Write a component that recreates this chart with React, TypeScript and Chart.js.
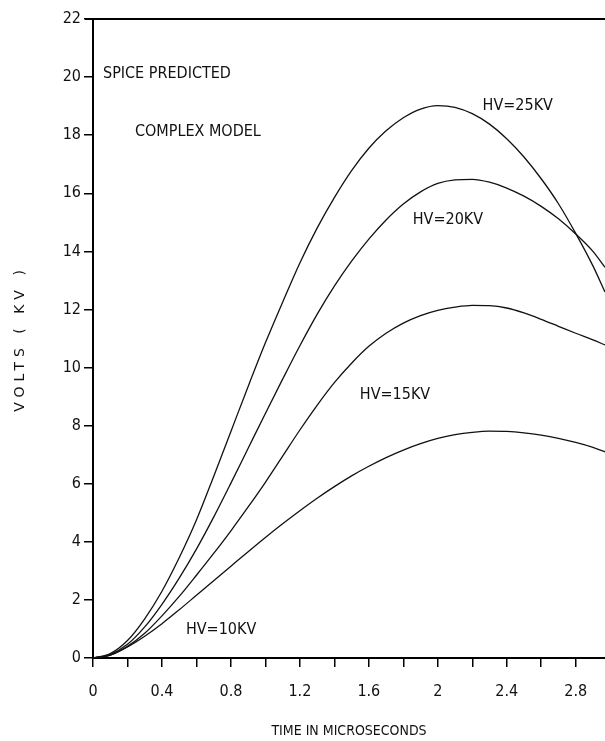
import React, { useEffect, useRef } from "react";
import { Chart, registerables } from "chart.js";

Chart.register(...registerables);

// Time in microseconds
const TIMES = [0, 0.1, 0.2, 0.3, 0.4, 0.5, 0.6, 0.7, 0.8, 0.9, 1.0, 1.1, 1.2, 1.3, 1.4, 1.5, 1.6, 1.7, 1.8, 1.9, 2.0, 2.1, 2.2, 2.3, 2.4, 2.5, 2.6, 2.7, 2.8, 2.9, 2.97];

// Volts (kV)
const HV25 = [0, 0.15, 0.6, 1.35, 2.3, 3.45, 4.75, 6.25, 7.8, 9.35, 10.85, 12.25, 13.6, 14.8, 15.85, 16.78, 17.55, 18.15, 18.6, 18.9, 19.02, 18.96, 18.74, 18.38, 17.88, 17.25, 16.5, 15.64, 14.62, 13.5, 12.6];
const HV20 = [0, 0.12, 0.47, 1.07, 1.85, 2.75, 3.75, 4.85, 6.02, 7.22, 8.42, 9.6, 10.75, 11.83, 12.8, 13.66, 14.42, 15.08, 15.63, 16.05, 16.34, 16.46, 16.48, 16.38, 16.18, 15.9, 15.55, 15.12, 14.6, 14.0, 13.45];
const HV15 = [0, 0.1, 0.4, 0.85, 1.45, 2.12, 2.85, 3.6, 4.38, 5.2, 6.05, 6.95, 7.85, 8.7, 9.48, 10.15, 10.73, 11.18, 11.53, 11.79, 11.97, 12.08, 12.14, 12.13, 12.05, 11.88, 11.66, 11.42, 11.18, 10.95, 10.78];
const HV10 = [0, 0.1, 0.38, 0.75, 1.18, 1.66, 2.16, 2.66, 3.16, 3.66, 4.15, 4.62, 5.07, 5.5, 5.9, 6.27, 6.6, 6.9, 7.16, 7.38, 7.56, 7.69, 7.77, 7.81, 7.8, 7.75, 7.67, 7.56, 7.42, 7.25, 7.1];

const SERIES_NAMES = ["HV=25KV", "HV=20KV", "HV=15KV", "HV=10KV"];
const SERIES_VALUES = [HV25, HV20, HV15, HV10];

const X_TICK_LABELS = ["0", "0.4", "0.8", "1.2", "1.6", "2", "2.4", "2.8"];
const Y_TICK_LABELS = ["0", "2", "4", "6", "8", "10", "12", "14", "16", "18", "20", "22"];

// In-plot notes, anchored at data coordinates (time, kV)
const NOTE_TEXTS = ["SPICE PREDICTED", "COMPLEX MODEL", "HV=25KV", "HV=20KV", "HV=15KV", "HV=10KV"];
const NOTE_T = [0.058, 0.243, 2.26, 1.855, 1.548, 0.539];
const NOTE_V = [20.1, 18.1, 19.0, 15.08, 9.05, 0.96];

const X_TITLE = "TIME IN MICROSECONDS";
const Y_TITLE = "VOLTS ( KV )";

const COND = '"DejaVu Sans Condensed", "Liberation Sans Narrow", "Roboto Condensed", "DejaVu Sans", sans-serif';

export default function App() {
  const ref = useRef<HTMLCanvasElement | null>(null);

  useEffect(() => {
    if (!ref.current) return;

    const decor = {
      id: "decor",
      afterDraw(chart: any) {
        const ctx = chart.ctx;
        const area = chart.chartArea;
        const xs = chart.scales.x;
        const ys = chart.scales.y;
        ctx.save();
        // top frame line
        ctx.strokeStyle = "#000";
        ctx.lineWidth = 2;
        ctx.beginPath();
        ctx.moveTo(area.left - 8, area.top);
        ctx.lineTo(area.right, area.top);
        ctx.stroke();
        // notes
        ctx.fillStyle = "#111";
        ctx.font = "16px " + COND;
        ctx.textAlign = "left";
        ctx.textBaseline = "middle";
        NOTE_TEXTS.forEach((t, i) => {
          ctx.fillText(t, xs.getPixelForValue(NOTE_T[i]), ys.getPixelForValue(NOTE_V[i]));
        });
        // y title
        ctx.translate(20, (area.top + area.bottom) / 2);
        ctx.rotate(-Math.PI / 2);
        ctx.font = '14px "DejaVu Sans", sans-serif';
        (ctx as any).letterSpacing = "5px";
        ctx.textAlign = "center";
        ctx.textBaseline = "middle";
        ctx.fillText(Y_TITLE, 0, 0);
        ctx.restore();
      },
    };

    const chart = new Chart(ref.current, {
      type: "line",
      data: {
        datasets: SERIES_VALUES.map((vals, k) => ({
          label: SERIES_NAMES[k],
          data: TIMES.map((t, i) => ({ x: t, y: vals[i] })),
          borderColor: "#111",
          borderWidth: 1.3,
          pointRadius: 0,
          fill: false,
          cubicInterpolationMode: "monotone" as const,
        })),
      },
      options: {
        responsive: false,
        animation: false,
        layout: { padding: { top: 19, left: 0, right: 0, bottom: 0 } },
        plugins: {
          legend: { display: false },
          tooltip: { enabled: false },
        },
        scales: {
          x: {
            type: "linear",
            min: 0,
            max: 2.97,
            afterFit: (s: any) => {
              s.height = 83;
            },
            ticks: {
              stepSize: 0.2,
              includeBounds: false,
              autoSkip: false,
              maxRotation: 0,
              padding: 15,
              color: "#111",
              font: { family: COND, size: 16 },
              callback: (v: any) => {
                const k = Math.round(Number(v) * 5);
                return k % 2 === 0 ? X_TICK_LABELS[k / 2] ?? "" : "";
              },
            },
            grid: {
              drawOnChartArea: false,
              drawTicks: true,
              tickLength: 9,
              color: "#000",
              lineWidth: 1.5,
            },
            border: { display: true, color: "#000", width: 2 },
            title: {
              display: true,
              text: X_TITLE,
              color: "#111",
              font: { family: COND, size: 14 },
              padding: { top: 0, bottom: 1 },
            },
          },
          y: {
            type: "linear",
            min: 0,
            max: 22,
            afterFit: (s: any) => {
              s.width = 93;
            },
            ticks: {
              stepSize: 2,
              padding: 3,
              color: "#111",
              font: { family: COND, size: 16 },
              callback: (v: any) => Y_TICK_LABELS[Math.round(Number(v) / 2)] ?? "",
            },
            grid: {
              drawOnChartArea: false,
              drawTicks: true,
              tickLength: 9,
              color: "#000",
              lineWidth: 1.5,
            },
            border: { display: true, color: "#000", width: 2 },
          },
        },
      },
      plugins: [decor],
    });

    return () => chart.destroy();
  }, []);

  return (
    <div style={{ position: "absolute", left: 0, top: 0, width: 605, height: 741, background: "#fff" }}>
      <canvas ref={ref} width={605} height={741} style={{ display: "block" }} />
    </div>
  );
}
